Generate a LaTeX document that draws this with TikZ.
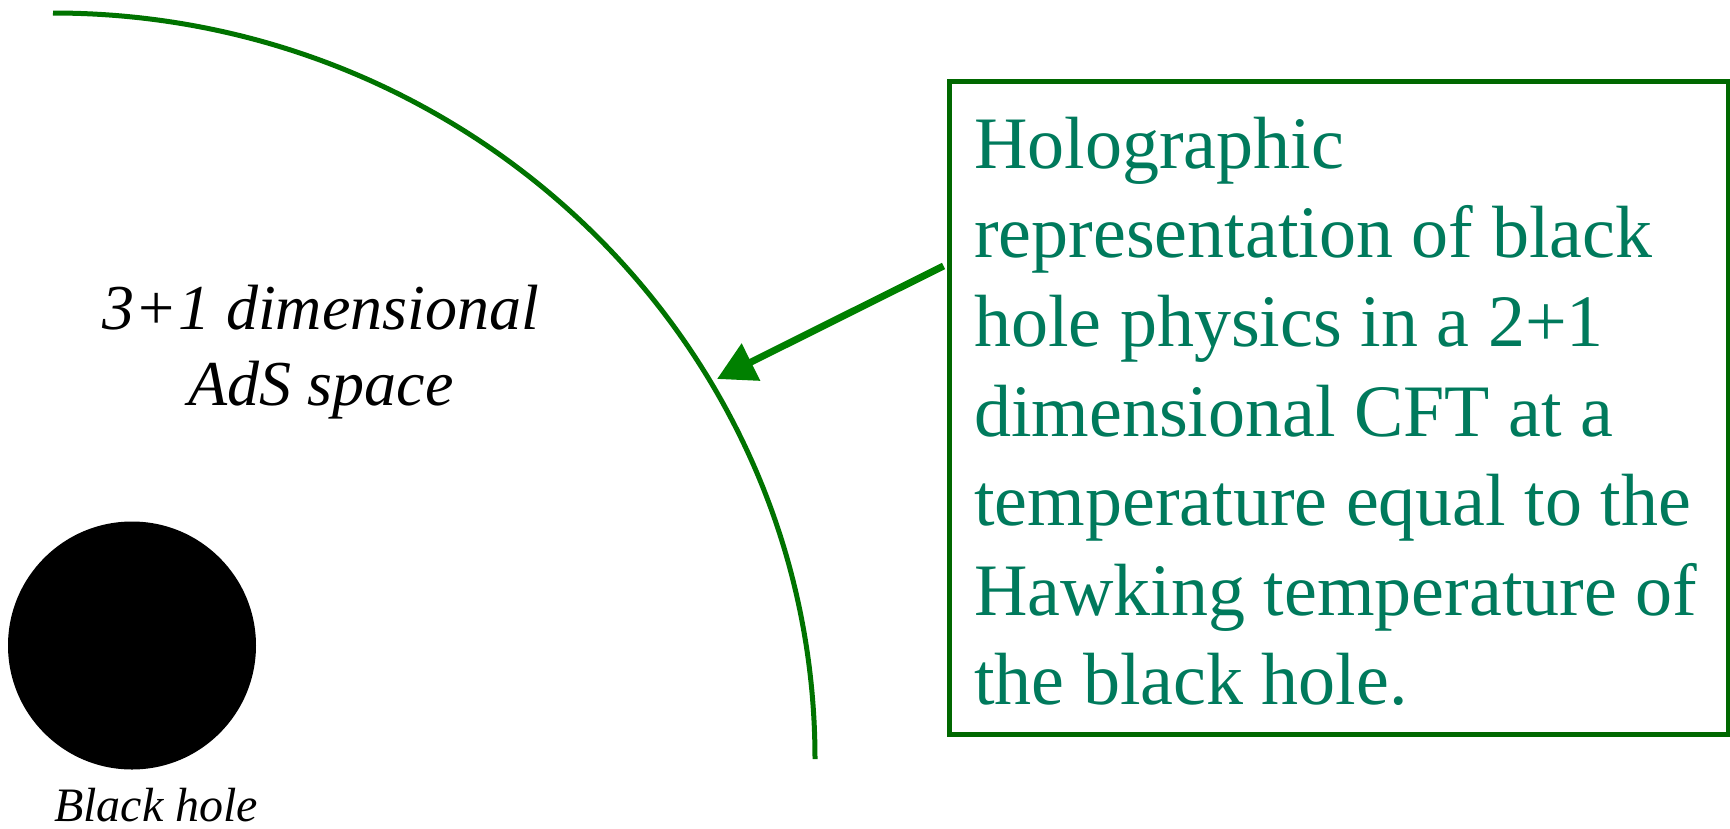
\documentclass[tikz,border=0pt]{standalone}
\usepackage{fontspec}
\setmainfont{Liberation Serif}
\usetikzlibrary{arrows.meta}
\definecolor{arcgreen}{RGB}{0,115,0}
\definecolor{arrowgreen}{RGB}{0,128,0}
\definecolor{boxgreen}{RGB}{0,104,0}
\definecolor{textgreen}{RGB}{0,122,92}
\tikzset{
  boundary/.style={draw=arcgreen, line width=5pt},
  pointer/.style={draw=arrowgreen, line width=7pt, -{Triangle[length=38pt,width=40pt]}},
  infobox/.style={draw=boxgreen, line width=5pt, minimum width=779pt, minimum height=653pt, inner sep=0pt},
  infotext/.style={text=textgreen, align=left, inner sep=0pt, font=\fontsize{74}{89.4}\selectfont},
  spacelabel/.style={align=center, inner sep=0pt, font=\fontsize{64}{76}\selectfont\itshape},
  bhlabel/.style={inner sep=0pt, font=\fontsize{48}{58}\selectfont\itshape},
  hole/.style={circle, fill=black, minimum size=248pt, inner sep=0pt}
}
\begin{document}
\begin{tikzpicture}[x=1pt,y=1pt]
\useasboundingbox (0,0) rectangle (1730,-828);
% AdS boundary
\draw[boundary] (53,-13) arc[start angle=90, end angle=0, x radius=762, y radius=746];
% black hole
\node[hole] (bh) at (132,-645.5) {};
\node[bhlabel, anchor=base] (bhtext) at (156,-821) {Black hole};
% space label
\node[spacelabel] (space) at (321,-352) {3+1 dimensional\\AdS space};
% info box
\node[infobox] (box) at (1338.5,-408) {};
\node[infotext, anchor=north west] (boxtext) at (974,-116.5) {Holographic\\representation of black\\hole physics in a 2+1\\dimensional CFT at a\\temperature equal to the\\Hawking temperature of\\the black hole.};
\coordinate (tip) at (717,-379);
\draw[pointer] ([yshift=-187pt,xshift=-3pt]box.north west) -- (tip);
\end{tikzpicture}
\end{document}
